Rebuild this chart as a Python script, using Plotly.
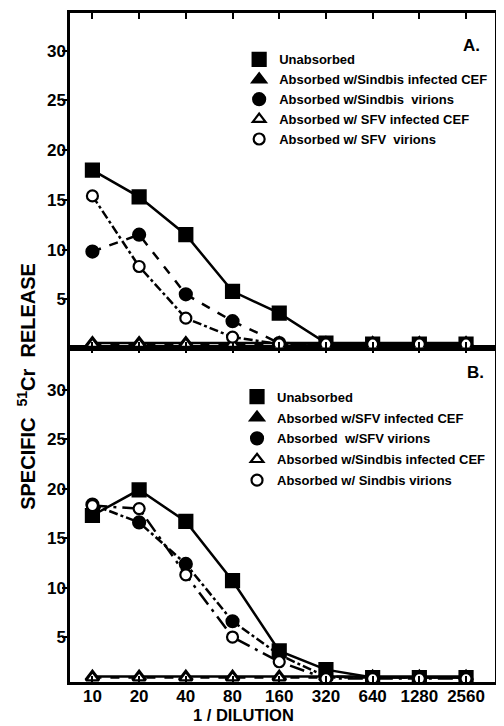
import plotly.graph_objects as go

dilutions = ["10", "20", "40", "80", "160", "320", "640", "1280", "2560"]
xpos = list(range(len(dilutions)))

# Panel A
a_unabs = [18.0, 15.3, 11.5, 5.8, 3.6, 0.6, 0.5, 0.5, 0.5]
a_sin_cef = [0.6, 0.6, 0.6, 0.6, 0.6, 0.6, 0.6, 0.6, 0.6]
a_sin_vir = [9.8, 11.5, 5.5, 2.8, 0.6, 0.5, 0.5, 0.5, 0.5]
a_sfv_cef = [0.5, 0.5, 0.5, 0.5, 0.5, 0.5, 0.5, 0.5, 0.5]
a_sfv_vir = [15.4, 8.3, 3.1, 1.2, 0.5, 0.5, 0.5, 0.5, 0.5]
a_names = ["Unabsorbed", "Absorbed w/Sindbis infected CEF", "Absorbed w/Sindbis  virions",
           "Absorbed w/ SFV infected CEF", "Absorbed w/ SFV  virions"]

# Panel B
b_unabs = [17.3, 19.9, 16.7, 10.7, 3.6, 1.7, 0.9, 0.9, 0.9]
b_sfv_cef = [1.0, 1.0, 1.0, 1.0, 1.0, 1.0, 1.0, 1.0, 1.0]
b_sfv_vir = [18.4, 16.6, 12.4, 6.6, 3.2, 1.0, 0.9, 0.9, 0.9]
b_sin_cef = [0.9, 0.9, 0.9, 0.9, 0.9, 0.9, 0.9, 0.9, 0.9]
b_sin_vir = [18.3, 18.0, 11.3, 5.0, 2.5, 0.8, 0.8, 0.8, 0.8]
b_names = ["Unabsorbed", "Absorbed w/SFV infected CEF", "Absorbed  w/SFV virions",
           "Absorbed w/Sindbis infected CEF", "Absorbed w/ Sindbis virions"]

FONT = "Liberation Sans"
BLK = "black"

fig = go.Figure()

styles = [
    dict(symbol="square", size=13, fill=BLK),
    dict(symbol="triangle-up", size=12, fill=BLK),
    dict(symbol="circle", size=12, fill=BLK),
    dict(symbol="triangle-up", size=11, fill="white"),
    dict(symbol="circle", size=11, fill="white"),
]
a_dashes = ["solid", "solid", "dash", "dash", "dashdot"]
b_dashes = ["solid", "solid", "dashdot", "dash", "longdashdot"]


def add_panel(series, names, yaxis, xaxis, legend, dashes, tag):
    for s, st, dsh in zip(series, styles, dashes):
        fig.add_trace(go.Scatter(
            x=xpos, y=s, mode="lines+markers", yaxis=yaxis, xaxis=xaxis,
            line=dict(color=BLK, width=2.5, dash=dsh),
            marker=dict(symbol=st["symbol"], size=st["size"], color=st["fill"],
                        line=dict(color=BLK, width=2.2)),
            showlegend=False))
    for i, (st, nm) in enumerate(zip(styles, names)):
        fig.add_trace(go.Scatter(
            x=[None], y=[None], mode="markers", yaxis=yaxis, xaxis=xaxis, name=nm, legend=legend,
            legendgroup=f"{tag}{i}",
            marker=dict(symbol=st["symbol"], size=st["size"], color=st["fill"],
                        line=dict(color=BLK, width=2.2))))


add_panel([a_unabs, a_sin_cef, a_sin_vir, a_sfv_cef, a_sfv_vir], a_names, "y2", "x2", "legend", a_dashes, "a")
add_panel([b_unabs, b_sfv_cef, b_sfv_vir, b_sin_cef, b_sin_vir], b_names, "y", "x", "legend2", b_dashes, "b")

tickfont = dict(family=FONT, size=17, color=BLK, weight="bold")
yt = [5, 10, 15, 20, 25, 30]
legfont = dict(family=FONT, size=13, color=BLK, weight="bold")

fig.update_layout(
    width=496, height=718,
    margin=dict(l=62, r=1, t=5, b=44),
    paper_bgcolor="white", plot_bgcolor="white",
    xaxis=dict(range=[-0.48, 8.62], tickvals=xpos, ticktext=dilutions, tickfont=tickfont,
               showgrid=False, zeroline=False, showline=True, linecolor=BLK, linewidth=2.5,
               ticks="inside", ticklen=6, tickwidth=2, tickcolor=BLK, mirror="ticks", anchor="y",
               ticklabelstandoff=-3),
    xaxis2=dict(range=[-0.48, 8.62], matches="x", anchor="y2", tickvals=xpos, showticklabels=False,
                showgrid=False, zeroline=False, showline=True, linecolor=BLK, linewidth=2.5,
                ticks="inside", ticklen=6, tickwidth=2, tickcolor=BLK, mirror="ticks"),
    yaxis=dict(domain=[0, 0.5], range=[0.45, 34.3], tickvals=yt, tickfont=tickfont,
               showgrid=False, zeroline=False, showline=True, linecolor=BLK, linewidth=2.5,
               ticks="outside", ticklen=5, tickwidth=2, tickcolor=BLK, mirror="ticks", anchor="x",
               ticklabelstandoff=-7),
    yaxis2=dict(domain=[0.5, 1], range=[0.15, 33.8], tickvals=yt, tickfont=tickfont,
                showgrid=False, zeroline=False, showline=True, linecolor=BLK, linewidth=2.5,
                ticks="outside", ticklen=5, tickwidth=2, tickcolor=BLK, mirror="ticks", anchor="x2",
                ticklabelstandoff=-7),
    legend=dict(x=0.398, y=0.953, xanchor="left", yanchor="top", bgcolor="rgba(0,0,0,0)",
                font=legfont, itemwidth=30, tracegroupgap=0),
    legend2=dict(x=0.393, y=0.449, xanchor="left", yanchor="top", bgcolor="rgba(0,0,0,0)",
                 font=legfont, itemwidth=30, tracegroupgap=1),
    annotations=[
        dict(text="A.", x=0.945, y=0.952, xref="paper", yref="paper", showarrow=False,
             xanchor="center", yanchor="middle",
             font=dict(family=FONT, size=17, color=BLK, weight="bold")),
        dict(text="B.", x=0.955, y=0.462, xref="paper", yref="paper", showarrow=False,
             xanchor="center", yanchor="middle",
             font=dict(family=FONT, size=17, color=BLK, weight="bold")),
        dict(text="SPECIFIC  <sup>51</sup>Cr  RELEASE", textangle=-90,
             x=(25 - 70) / 433, y=(682 - 386) / 669,
             xref="paper", yref="paper", showarrow=False, xanchor="center", yanchor="middle",
             font=dict(family=FONT, size=20, color=BLK, weight="bold")),
        dict(text="1 / DILUTION", x=(247 - 70) / 433, y=(682 - 715) / 669,
             xref="paper", yref="paper", showarrow=False, xanchor="center", yanchor="middle",
             font=dict(family=FONT, size=16.5, color=BLK, weight="bold")),
    ],
)

fig.write_html("out.html")
